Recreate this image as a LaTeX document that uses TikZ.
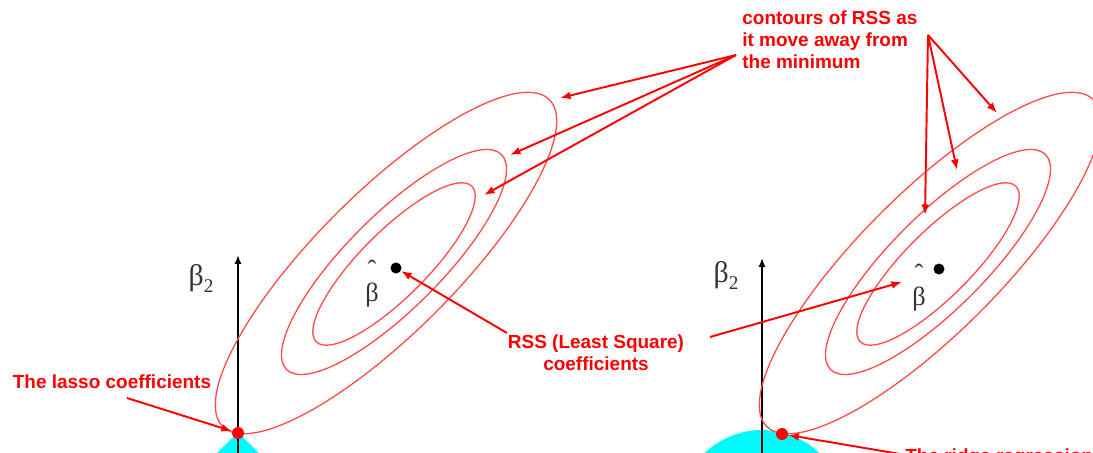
\documentclass[tikz,border=0pt]{standalone}
\usepackage{fontspec}
\setmainfont{Liberation Serif}
\setsansfont{Liberation Sans}
\usetikzlibrary{arrows.meta}
\definecolor{aqua}{RGB}{0,250,250}

\tikzset{
  callout/.style={text=red, font=\sffamily\bfseries\fontsize{10.8}{12.6}\selectfont, inner sep=0pt},
  greek/.style={text=black!80, font=\fontsize{17}{17}\selectfont, inner sep=0pt},
  hatted/.style={text=black!80, font=\fontsize{15}{15}\selectfont, inner sep=0pt, align=center},
  contour/.style={draw=red!70, line width=0.75pt},
  pointer/.style={red, line width=1.1pt, -{Latex[length=6pt,width=4.5pt]}},
  axisline/.style={black, line width=1.2pt, -{Latex[length=5pt,width=4pt]}},
  reddot/.style={circle, fill=red, inner sep=0pt, minimum size=0.24cm},
  blackdot/.style={circle, fill=black, inner sep=0pt, minimum size=0.22cm},
}

\begin{document}
\begin{tikzpicture}[x=0.02cm, y=-0.02cm]
  \useasboundingbox (0,0) rectangle (1093,453);
  \clip (0,0) rectangle (1093,453);

  % lasso side
  \fill[aqua] (238,432) -- (300,494) -- (238,556) -- (176,494) -- cycle;
  \coordinate (lfoot) at (238,460);
  \coordinate (ltop) at (238,255);
  \draw[axisline] (lfoot) -- (ltop);
  \node[greek] (lbeta) at (201,278) {β\raisebox{-4pt}{\fontsize{11}{11}\selectfont 2}};

  \draw[contour, rotate around={45:(386,263)}] (386,263) ellipse [x radius=231, y radius=70];
  \draw[contour, rotate around={45:(394,262)}] (394,262) ellipse [x radius=152, y radius=47];
  \draw[contour, rotate around={45:(394,264)}] (394,264) ellipse [x radius=110, y radius=33];

  \node[hatted] (lhat) at (372,284) {ˆ\\[-2pt]β};
  \node[blackdot] (lls) at (396,268) {};
  \node[reddot] (lasso) at (238,433) {};

  % ridge side
  \fill[aqua] (762,513) circle (83);
  \coordinate (rfoot) at (762,460);
  \coordinate (rtop) at (762,258);
  \draw[axisline] (rfoot) -- (rtop);
  \node[greek] (rbeta) at (726,275) {β\raisebox{-4pt}{\fontsize{11}{11}\selectfont 2}};

  \draw[contour, rotate around={45:(930,263)}] (930,263) ellipse [x radius=231, y radius=70];
  \draw[contour, rotate around={45:(938,262)}] (938,262) ellipse [x radius=152, y radius=47];
  \draw[contour, rotate around={45:(938,264)}] (938,264) ellipse [x radius=110, y radius=33];

  \node[hatted] (rhat) at (919,288) {ˆ\\[-2pt]β};
  \node[blackdot] (rls) at (939,269) {};
  \node[reddot] (ridge) at (782,434) {};

  % labels
  \node[callout, align=left, anchor=west] (contours) at (742,40) {contours of RSS as\\it move away from\\the minimum};
  \node[callout, align=center] (rsstxt) at (596,353) {RSS (Least Square)\\coefficients};
  \node[callout] (lassotxt) at (112,382) {The lasso coefficients};
  \node[callout, anchor=base west] (ridgetxt) at (905,462) {The ridge regression};

  % pointers
  \coordinate (cl) at (736,55);
  \coordinate (cr) at (928,35);
  \coordinate (lo) at (560,98);
  \coordinate (lm) at (510,155);
  \coordinate (li) at (484,195);
  \coordinate (ri) at (925,215);
  \coordinate (rm) at (957,170);
  \coordinate (ro) at (997,113);
  \draw[pointer] (cl) -- (lo);
  \draw[pointer] (cl) -- (lm);
  \draw[pointer] (cl) -- (li);
  \draw[pointer] (cr) -- (ri);
  \draw[pointer] (cr) -- (rm);
  \draw[pointer] (cr) -- (ro);

  \coordinate (rssl) at (507,333);
  \coordinate (rssr) at (710,337);
  \coordinate (rhatw) at (902,282);
  \draw[pointer] (rssl) -- (lls);
  \draw[pointer] (rssr) -- (rhatw);

  \coordinate (lassofrom) at (127,398);
  \coordinate (ridgefrom) at (900,454);
  \draw[pointer] (lassofrom) -- (lasso);
  \draw[pointer] (ridgefrom) -- (ridge);
\end{tikzpicture}
\end{document}
